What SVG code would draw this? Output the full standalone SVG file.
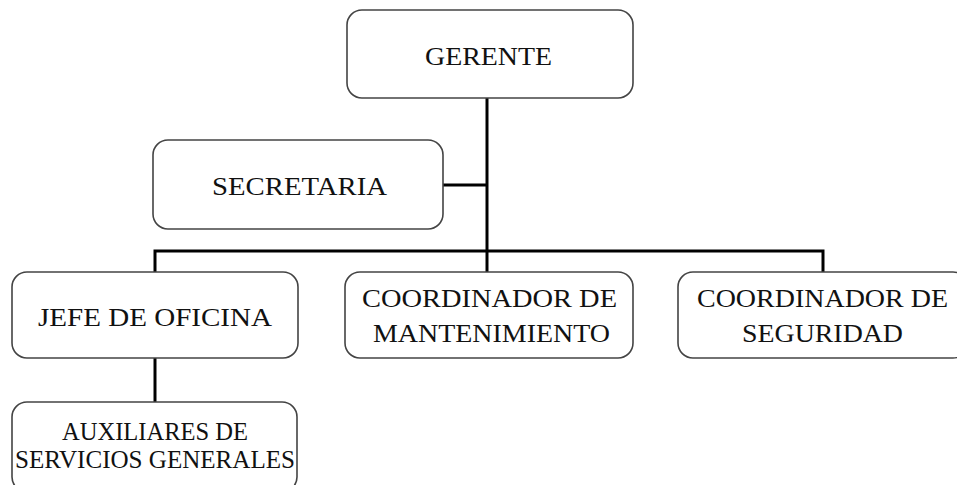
<svg xmlns="http://www.w3.org/2000/svg" width="957" height="485" viewBox="0 0 957 485">
<style>
.box{fill:#fff;stroke:#444;stroke-width:1.6}
.t{font-family:"Liberation Serif","DejaVu Serif",serif;font-size:25px;fill:#111}
.c{stroke:#000;stroke-width:3;fill:none}
</style>
<rect width="957" height="485" fill="#fff"/>
<g id="connectors">
<line class="c" x1="487" y1="98" x2="487" y2="251"/>
<line class="c" x1="443" y1="185" x2="487" y2="185"/>
<polyline class="c" points="155,272 155,251 823,251 823,272"/>
<line class="c" x1="487" y1="251" x2="487" y2="272"/>
<line class="c" x1="155" y1="358" x2="155" y2="402"/>
</g>
<g id="gerente">
<rect class="box" x="347" y="10" width="286" height="88" rx="15"/>
<text class="t" x="425" y="65" textLength="127" lengthAdjust="spacingAndGlyphs">GERENTE</text>
</g>
<g id="secretaria">
<rect class="box" x="153" y="140" width="290" height="89" rx="15"/>
<text class="t" x="212" y="195" textLength="175" lengthAdjust="spacingAndGlyphs">SECRETARIA</text>
</g>
<g id="jefe">
<rect class="box" x="12" y="272" width="286" height="86" rx="15"/>
<text class="t" x="38" y="326" textLength="234" lengthAdjust="spacingAndGlyphs">JEFE DE OFICINA</text>
</g>
<g id="mantenimiento">
<rect class="box" x="345" y="272" width="288" height="86" rx="15"/>
<text class="t" x="362" y="307" textLength="255" lengthAdjust="spacingAndGlyphs">COORDINADOR DE</text>
<text class="t" x="373" y="342" textLength="237" lengthAdjust="spacingAndGlyphs">MANTENIMIENTO</text>
</g>
<g id="seguridad">
<rect class="box" x="678" y="272" width="290" height="86" rx="15"/>
<text class="t" x="697" y="307" textLength="251" lengthAdjust="spacingAndGlyphs">COORDINADOR DE</text>
<text class="t" x="742" y="342" textLength="161" lengthAdjust="spacingAndGlyphs">SEGURIDAD</text>
</g>
<g id="auxiliares">
<rect class="box" x="12" y="402" width="285" height="90" rx="15"/>
<text class="t" x="62" y="440" textLength="186" lengthAdjust="spacingAndGlyphs">AUXILIARES DE</text>
<text class="t" x="15" y="468" textLength="280" lengthAdjust="spacingAndGlyphs">SERVICIOS GENERALES</text>
</g>
</svg>
